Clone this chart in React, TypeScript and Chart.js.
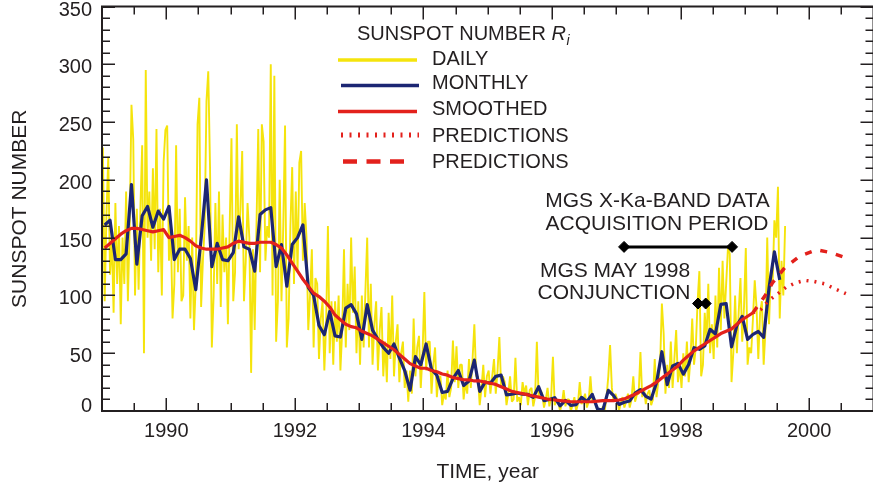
import { useEffect, useRef } from "react";
import { Chart, registerables } from "chart.js";

Chart.register(...registerables);

// ---------------- data ----------------
const firstYear = 1989;
const xMin = 1989;
const xMax = 2001;
const yearTicks = [1990, 1992, 1994, 1996, 1998, 2000];
const countTicks = [0, 50, 100, 150, 200, 250, 300, 350];

// daily sunspot numbers, three readings per month
const daily1989 = [228, 95, 170, 220, 118, 150, 85, 180, 110, 160, 75, 150, 110, 190, 95, 160, 265, 235, 100, 175, 105, 175, 230, 50, 295, 150, 190, 130, 210, 140, 244, 120, 175, 100, 215, 243];
const daily1990 = [247, 130, 160, 80, 110, 230, 120, 175, 95, 100, 185, 130, 160, 80, 150, 70, 110, 248, 271, 90, 130, 160, 268, 294, 210, 55, 100, 180, 110, 190, 90, 170, 120, 150, 75, 160];
const daily1991 = [236, 95, 120, 248, 140, 175, 225, 95, 130, 180, 150, 33, 140, 70, 160, 244, 120, 248, 233, 130, 160, 150, 300, 100, 290, 60, 95, 200, 95, 160, 247, 55, 80, 160, 211, 110];
const daily1992 = [190, 120, 215, 225, 130, 180, 150, 70, 100, 140, 55, 115, 110, 45, 80, 95, 35, 75, 160, 50, 95, 40, 95, 60, 100, 35, 70, 140, 55, 110, 70, 150, 85, 125, 50, 95];
const daily1993 = [40, 100, 55, 104, 150, 55, 110, 40, 75, 95, 35, 70, 90, 30, 60, 25, 85, 45, 100, 30, 60, 75, 25, 50, 60, 20, 35, 8, 35, 15, 80, 30, 55, 65, 20, 50];
const daily1994 = [103, 35, 60, 60, 15, 40, 55, 12, 30, 30, 5, 15, 10, 35, 12, 20, 61, 25, 56, 20, 40, 40, 10, 25, 15, 45, 20, 45, 75, 30, 30, 5, 20, 40, 12, 30];
const daily1995 = [35, 15, 30, 45, 15, 35, 64, 20, 30, 25, 5, 15, 30, 8, 10, 46, 8, 12, 5, 25, 15, 22, 5, 18, 20, 4, 12, 60, 12, 18, 15, 3, 10, 20, 4, 12];
const daily1996 = [47, 5, 10, 8, 0, 6, 18, 4, 10, 10, 0, 5, 12, 0, 6, 25, 6, 10, 15, 3, 8, 30, 8, 12, 5, 0, 2, 0, 4, 0, 12, 30, 57, 20, 8, 15];
const daily1997 = [10, 0, 7, 12, 3, 8, 15, 3, 10, 30, 8, 14, 15, 51, 12, 20, 6, 15, 18, 5, 10, 45, 12, 25, 40, 93, 67, 15, 40, 20, 60, 20, 45, 70, 25, 40];
const daily1998 = [20, 50, 30, 60, 25, 45, 80, 40, 55, 95, 121, 30, 40, 85, 60, 110, 50, 75, 45, 100, 55, 124, 70, 130, 80, 110, 141, 136, 25, 50, 100, 50, 85, 115, 60, 90];
const daily1999 = [141, 40, 55, 50, 80, 113, 90, 45, 85, 95, 40, 70, 150, 75, 120, 110, 165, 150, 194, 80, 130, 100, 160];

// monthly means
const monthly1989 = [161, 165, 131, 131, 136, 196, 127, 169, 177, 159, 173, 166];
const monthly1990 = [177, 131, 140, 140, 132, 105, 149, 200, 125, 145, 131, 130];
const monthly1991 = [137, 168, 142, 140, 121, 170, 174, 176, 125, 144, 108, 144];
const monthly1992 = [150, 161, 107, 100, 74, 66, 86, 65, 64, 89, 92, 84];
const monthly1993 = [62, 92, 70, 62, 55, 50, 58, 46, 35, 18, 47, 40];
const monthly1994 = [58, 36, 31, 16, 17, 28, 35, 22, 26, 44, 17, 25];
const monthly1995 = [24, 30, 31, 14, 14.5, 15.6, 14.5, 14.3, 11.8, 21, 9, 10];
const monthly1996 = [11.5, 4.4, 9.2, 4.8, 5.5, 11.8, 8.2, 14.4, 1.6, 0.9, 17.9, 13.3];
const monthly1997 = [5.7, 7.6, 8.7, 15.5, 18.5, 12.7, 10.4, 24.4, 51.3, 22.8, 39, 41.2];
const monthly1998 = [31.9, 40.3, 54.8, 53.4, 56.3, 70.7, 66.6, 92.2, 92.9, 55.5, 74, 81.9];
const monthly1999 = [62, 66.3, 68.8, 63.7, 106.4, 137.7, 113.5];

// 13-month smoothed values
const smoothed1989 = [141, 145, 149, 153, 156, 158, 158, 157, 156, 155, 156, 157];
const smoothed1990 = [150, 151, 152, 150, 147, 143, 141, 140, 140, 140, 141, 142];
const smoothed1991 = [145, 147, 146, 145, 145, 146, 146, 146, 144, 141, 135, 128];
const smoothed1992 = [121, 114, 108, 102, 99, 95, 90, 83, 79, 75, 73, 72];
const smoothed1993 = [69, 67, 65, 62, 59, 56, 53, 49, 45, 41, 39, 37];
const smoothed1994 = [37, 35, 34, 32, 31, 29, 28, 27, 27, 26, 26, 25];
const smoothed1995 = [24, 23, 21, 19, 17, 16, 15, 14, 13, 12, 11, 10];
const smoothed1996 = [9.5, 9, 8.5, 8, 8, 8, 8, 8, 8.5, 9, 9, 9];
const smoothed1997 = [9.5, 10.5, 12.5, 14.5, 17, 19.5, 22, 25, 28.5, 32, 35.5, 39];
const smoothed1998 = [44, 48, 52, 55, 58, 61, 64, 67, 69, 71, 75, 79];
const smoothed1999 = [82, 85];

// predicted smoothed numbers
const predictionLowYears = [1999.125, 1999.25, 1999.36, 1999.5, 1999.64, 1999.79, 1999.93, 2000.08, 2000.24, 2000.39, 2000.57];
const predictionLowValues = [85, 88, 95, 101, 107, 111, 113, 112, 110, 106, 101.5];
const predictionHighYears = [1999.125, 1999.31, 1999.43, 1999.62, 1999.85, 2000.11, 2000.34, 2000.55];
const predictionHighValues = [85, 99.5, 111, 124, 134, 139.5, 137, 133];

// mission events
const acquisitionPeriod = [1997.12, 1998.8];
const acquisitionLevel = 142;
const conjunctionDates = [1998.27, 1998.39];
const conjunctionLevel = 93;

// ---------------- styling ----------------
const INK = "#231f20";
const YELLOW = "#f5e40c";
const NAVY = "#1c2673";
const RED = "#e3211c";
const FONT = '"Liberation Sans", Arial, Helvetica, sans-serif';

type Pt = { x: number; y: number };

const byYear = (years: number[][], perYear: number): Pt[] =>
  years.flatMap((vals, yi) =>
    vals.map((v, k) => ({ x: firstYear + yi + (k + 0.5) / perYear, y: v }))
  );

const pairs = (xs: number[], ys: number[]): Pt[] => xs.map((x, i) => ({ x, y: ys[i] }));

const dailyPts = byYear(
  [daily1989, daily1990, daily1991, daily1992, daily1993, daily1994, daily1995, daily1996, daily1997, daily1998, daily1999],
  36
);
const monthlyPts = byYear(
  [monthly1989, monthly1990, monthly1991, monthly1992, monthly1993, monthly1994, monthly1995, monthly1996, monthly1997, monthly1998, monthly1999],
  12
);
const smoothedPts = byYear(
  [smoothed1989, smoothed1990, smoothed1991, smoothed1992, smoothed1993, smoothed1994, smoothed1995, smoothed1996, smoothed1997, smoothed1998, smoothed1999],
  12
);

// key rows: label, colour, line width, dash, baseline of text, y of sample line, sample extent
const keyRows = [
  { text: "DAILY", color: YELLOW, width: 3.5, dash: [] as number[], base: 65, ly: 60, x0: 338, x1: 417 },
  { text: "MONTHLY", color: NAVY, width: 3.5, dash: [] as number[], base: 89, ly: 85.5, x0: 341, x1: 419 },
  { text: "SMOOTHED", color: RED, width: 3.5, dash: [] as number[], base: 115, ly: 111.5, x0: 338, x1: 417 },
  { text: "PREDICTIONS", color: RED, width: 5, dash: [2, 6.5], base: 142, ly: 135, x0: 341, x1: 419 },
  { text: "PREDICTIONS", color: RED, width: 4.5, dash: [14, 9.5], base: 168, ly: 161.5, x0: 343, x1: 413 },
];

const framePlugin = {
  id: "frameTicks",
  afterDatasetsDraw(chart: any) {
    const { ctx, chartArea: a } = chart;
    const xs = chart.scales.x;
    const ys = chart.scales.y;
    ctx.save();
    ctx.strokeStyle = INK;
    ctx.lineWidth = 1.5;
    ctx.beginPath();
    for (let k = 0; k <= (xMax - xMin) * 2; k++) {
      const t = xMin + k * 0.5;
      const px = Math.round(xs.getPixelForValue(t)) + 0.25;
      const len = t % 2 === 0 ? 13 : 8;
      ctx.moveTo(px, a.bottom);
      ctx.lineTo(px, a.bottom - len);
      ctx.moveTo(px, a.top);
      ctx.lineTo(px, a.top + len);
    }
    for (let v = 0; v <= 350; v += 10) {
      const py = Math.round(ys.getPixelForValue(v)) + 0.25;
      const len = v % 50 === 0 ? 13 : 8;
      ctx.moveTo(a.left, py);
      ctx.lineTo(a.left + len, py);
      ctx.moveTo(a.right, py);
      ctx.lineTo(a.right - len, py);
    }
    ctx.stroke();
    ctx.lineWidth = 2;
    ctx.strokeRect(a.left, a.top, a.right - a.left, a.bottom - a.top);

    // y tick labels, kept inside the canvas at both ends
    ctx.fillStyle = INK;
    ctx.font = `20px ${FONT}`;
    ctx.textAlign = "right";
    ctx.textBaseline = "alphabetic";
    ys.ticks.forEach((tk: any) => {
      const py = ys.getPixelForValue(tk.value);
      const base = Math.min(Math.max(py + 9, 15.5), 412);
      ctx.fillText(String(tk.value), 92, base);
    });
    ctx.restore();
  },
  afterDraw(chart: any) {
    const { ctx } = chart;
    ctx.save();
    ctx.fillStyle = INK;
    ctx.textBaseline = "alphabetic";
    ctx.textAlign = "left";

    // key heading with italic R and subscript i
    ctx.font = `20px ${FONT}`;
    const head = "SUNSPOT NUMBER ";
    ctx.fillText(head, 357, 40);
    let hx = 357 + ctx.measureText(head).width;
    ctx.font = `italic 20px ${FONT}`;
    ctx.fillText("R", hx, 40);
    hx += ctx.measureText("R").width;
    ctx.font = `italic 14px ${FONT}`;
    ctx.fillText("i", hx + 0.5, 45);

    keyRows.forEach((r) => {
      ctx.save();
      ctx.strokeStyle = r.color;
      ctx.lineWidth = r.width;
      ctx.setLineDash(r.dash);
      ctx.lineCap = "butt";
      ctx.beginPath();
      ctx.moveTo(r.x0, r.ly);
      ctx.lineTo(r.x1, r.ly);
      ctx.stroke();
      ctx.restore();
      ctx.font = `20px ${FONT}`;
      ctx.fillText(r.text, 432, r.base);
    });

    // event notes
    ctx.font = `21px ${FONT}`;
    ctx.textAlign = "center";
    ctx.fillText("MGS X-Ka-BAND DATA", 657.5, 207);
    ctx.fillText("ACQUISITION PERIOD", 657, 230);
    ctx.fillText("MGS MAY 1998", 615, 277);
    ctx.fillText("CONJUNCTION", 614, 299);
    ctx.restore();
  },
};

export default function App() {
  const ref = useRef<HTMLCanvasElement | null>(null);

  useEffect(() => {
    const canvas = ref.current;
    if (!canvas) return;
    const chart = new Chart(canvas, {
      type: "line",
      data: {
        datasets: [
          {
            label: "ACQUISITION PERIOD",
            data: pairs(acquisitionPeriod, [acquisitionLevel, acquisitionLevel]),
            borderColor: "#000",
            borderWidth: 3,
            pointStyle: "rectRot",
            pointRadius: 5.5,
            pointBorderWidth: 1,
            pointBackgroundColor: "#000",
            pointBorderColor: "#000",
            order: 0,
          },
          {
            label: "CONJUNCTION",
            data: pairs(conjunctionDates, [conjunctionLevel, conjunctionLevel]),
            showLine: false,
            pointStyle: "rectRot",
            pointRadius: 5.5,
            pointBorderWidth: 1,
            pointBackgroundColor: "#000",
            pointBorderColor: "#000",
            order: 0,
          },
          {
            label: "SMOOTHED",
            data: smoothedPts,
            borderColor: RED,
            borderWidth: 3.2,
            pointRadius: 0,
            borderJoinStyle: "round",
            order: 1,
          },
          {
            label: "PREDICTIONS",
            data: pairs(predictionLowYears, predictionLowValues),
            borderColor: RED,
            borderWidth: 3.5,
            borderDash: [2, 6],
            pointRadius: 0,
            order: 1,
          },
          {
            label: "PREDICTIONS",
            data: pairs(predictionHighYears, predictionHighValues),
            borderColor: RED,
            borderWidth: 3.5,
            borderDash: [7, 9],
            pointRadius: 0,
            order: 1,
          },
          {
            label: "MONTHLY",
            data: monthlyPts,
            borderColor: NAVY,
            borderWidth: 3.2,
            pointRadius: 0,
            borderJoinStyle: "round",
            clip: { left: 0, top: 0, right: 0, bottom: 3 } as any,
            order: 2,
          },
          {
            label: "DAILY",
            data: dailyPts,
            borderColor: YELLOW,
            borderWidth: 1.9,
            pointRadius: 0,
            borderJoinStyle: "bevel",
            order: 3,
          },
        ] as any,
      },
      options: {
        responsive: false,
        devicePixelRatio: 1,
        animation: false,
        events: [],
        layout: { padding: { top: 3, right: 4, left: 0, bottom: 0 } },
        plugins: {
          legend: { display: false },
          tooltip: { enabled: false },
        },
        scales: {
          x: {
            type: "linear",
            position: "bottom",
            min: xMin,
            max: xMax,
            grid: { display: false, drawTicks: false },
            border: { display: false },
            afterBuildTicks: (s: any) => {
              s.ticks = yearTicks.map((value) => ({ value }));
            },
            afterFit: (s: any) => {
              s.height = 79;
            },
            ticks: {
              padding: 8,
              color: INK,
              font: { family: FONT, size: 20 },
              maxRotation: 0,
              autoSkip: false,
              callback: (v: any) => String(v),
            },
            title: {
              display: true,
              text: "TIME, year",
              color: INK,
              font: { family: FONT, size: 21 },
              padding: { top: 0, bottom: 5 },
            },
          },
          y: {
            type: "linear",
            position: "left",
            min: 0,
            max: 350,
            grid: { display: false, drawTicks: false },
            border: { display: false },
            afterBuildTicks: (s: any) => {
              s.ticks = countTicks.map((value) => ({ value }));
            },
            afterFit: (s: any) => {
              s.width = 102;
            },
            ticks: { display: false },
            title: {
              display: true,
              text: "SUNSPOT NUMBER",
              color: INK,
              font: { family: FONT, size: 21 },
              padding: { top: 8, bottom: 0 },
            },
          },
        },
      } as any,
      plugins: [framePlugin],
    });
    return () => chart.destroy();
  }, []);

  return (
    <div
      style={{
        position: "fixed",
        left: 0,
        top: 0,
        width: 873,
        height: 490,
        overflow: "hidden",
        background: "#fff",
      }}
    >
      <canvas ref={ref} width={880} height={490} style={{ display: "block", width: 880, height: 490 }} />
    </div>
  );
}
